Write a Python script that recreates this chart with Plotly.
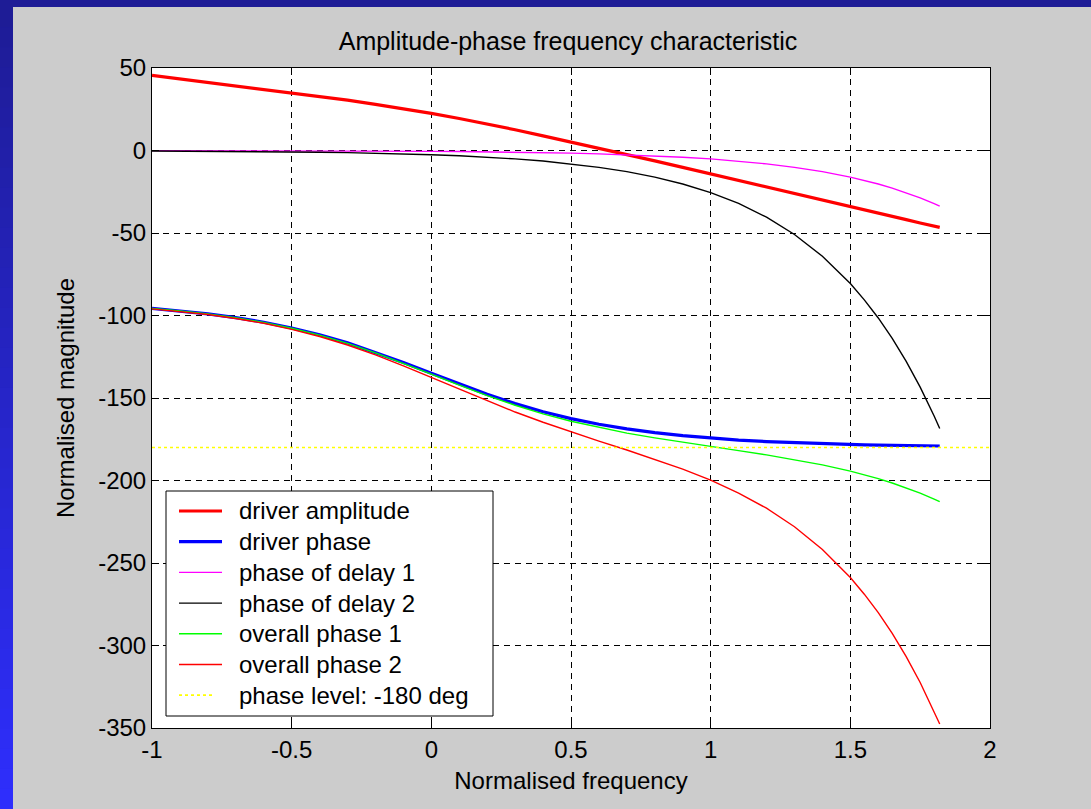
import plotly.graph_objects as go

# ---------------- data ----------------
freq = [-1.0, -0.9, -0.8, -0.7, -0.6, -0.5, -0.4, -0.3, -0.2, -0.1,
        0.0, 0.1, 0.2, 0.3, 0.4, 0.5, 0.6, 0.7, 0.8, 0.9,
        1.0, 1.1, 1.2, 1.3, 1.4, 1.5, 1.55, 1.6, 1.65, 1.7, 1.75, 1.8, 1.82]

driver_amplitude = [45.5, 43.4, 41.4, 39.3, 37.2, 35.1, 32.9, 30.5, 28.0, 25.4,
                    22.5, 19.4, 16.1, 12.6, 8.9, 5.2, 1.4, -2.4, -6.3, -10.2,
                    -14.1, -18.0, -22.0, -25.9, -29.9, -33.9, -35.9, -37.9, -39.9, -41.9, -43.9, -45.9, -46.6]

driver_phase = [-95.7, -97.2, -99.0, -101.3, -104.1, -107.6, -111.7, -116.6, -122.3, -128.5,
                -135.0, -141.5, -147.8, -153.4, -158.3, -162.5, -165.9, -168.7, -171.0, -172.8,
                -174.3, -175.5, -176.4, -177.1, -177.7, -178.2, -178.4, -178.6, -178.7, -178.9, -179.0, -179.1, -179.1]

phase_delay_1 = [-0.05, -0.06, -0.08, -0.10, -0.13, -0.16, -0.20, -0.26, -0.32, -0.41,
                 -0.51, -0.64, -0.81, -1.02, -1.28, -1.61, -2.03, -2.56, -3.22, -4.05,
                 -5.1, -6.4, -8.1, -10.2, -12.8, -16.1, -18.1, -20.3, -22.8, -25.6, -28.7, -32.2, -33.7]

phase_delay_2 = [-0.26, -0.32, -0.40, -0.51, -0.64, -0.81, -1.02, -1.28, -1.61, -2.03,
                 -2.55, -3.2, -4.0, -5.1, -6.4, -8.1, -10.2, -12.8, -16.1, -20.3,
                 -25.5, -32.1, -40.4, -50.9, -64.1, -80.6, -90.5, -101.5, -113.9, -127.8, -143.4, -160.9, -168.5]

overall_phase_1 = [-95.8, -97.2, -99.1, -101.4, -104.2, -107.7, -111.9, -116.9, -122.6, -128.9,
                   -135.5, -142.2, -148.6, -154.4, -159.6, -164.1, -167.9, -171.3, -174.2, -176.9,
                   -179.4, -181.9, -184.5, -187.3, -190.5, -194.3, -196.5, -198.9, -201.5, -204.4, -207.7, -211.3, -212.8]

overall_phase_2 = [-96.0, -97.5, -99.4, -101.8, -104.7, -108.4, -112.7, -117.9, -123.9, -130.5,
                   -137.6, -144.8, -151.8, -158.5, -164.7, -170.5, -176.1, -181.5, -187.1, -193.1,
                   -199.8, -207.6, -216.8, -228.0, -241.8, -258.8, -268.9, -280.1, -292.6, -306.7, -322.4, -340.0, -347.6]

level_x = [-1.0, 2.0]
level_y = [-180, -180]

x_ticks = [-1, -0.5, 0, 0.5, 1, 1.5, 2]
x_tick_text = ["-1", "-0.5", "0", "0.5", "1", "1.5", "2"]
y_ticks = [-350, -300, -250, -200, -150, -100, -50, 0, 50]
y_tick_text = ["-350", "-300", "-250", "-200", "-150", "-100", "-50", "0", "50"]

series_names = ["driver amplitude", "driver phase", "phase of delay 1", "phase of delay 2",
                "overall phase 1", "overall phase 2", "phase level: -180 deg"]

# ---------------- figure ----------------
W, H = 1091, 809
L, R, T, B = 152, 101, 68, 81
FONT = "Liberation Sans"
FS = 24

styles = [("#ff0000", 3.2, "solid"), ("#0000ff", 3.2, "solid"), ("#ff00ff", 1.4, "solid"),
          ("#000000", 1.4, "solid"), ("#00ff00", 1.4, "solid"), ("#ff0000", 1.4, "solid"),
          ("#ffff00", 1.7, "dot")]
ys = [driver_amplitude, driver_phase, phase_delay_1, phase_delay_2, overall_phase_1, overall_phase_2]

fig = go.Figure()
for name, y, (c, w, d) in zip(series_names[:6], ys, styles[:6]):
    fig.add_trace(go.Scatter(x=freq, y=y, mode="lines", name=name, showlegend=False,
                             line=dict(color=c, width=w, dash=d)))
fig.add_trace(go.Scatter(x=level_x, y=level_y, mode="lines", name=series_names[6], showlegend=False,
                         line=dict(color=styles[6][0], width=styles[6][1], dash=styles[6][2])))

pw, ph = W - L - R, H - T - B
def px2x(p):
    return (p - L) / pw
def py2y(p):
    return (H - B - p) / ph

shapes = []
annotations = []

# blue frame around the grey panel (decoration)
dark = (30, 28, 150)
bright = (46, 46, 252)
shapes.append(dict(type="rect", xref="paper", yref="paper",
                   x0=px2x(0), x1=px2x(W), y0=py2y(7), y1=py2y(0),
                   fillcolor="rgb(%d,%d,%d)" % dark, line=dict(width=0)))
n = 40
for i in range(n):
    t = i / (n - 1)
    col = tuple(int(round(dark[k] + (bright[k] - dark[k]) * t)) for k in range(3))
    y_top = 7 + (H - 7) * i / n
    y_bot = 7 + (H - 7) * (i + 1) / n + 1
    shapes.append(dict(type="rect", xref="paper", yref="paper",
                       x0=px2x(0), x1=px2x(13), y0=py2y(y_bot), y1=py2y(y_top),
                       fillcolor="rgb(%d,%d,%d)" % col, line=dict(width=0)))

# legend box (MATLAB style: long line samples)
shapes.append(dict(type="rect", xref="paper", yref="paper",
                   x0=px2x(166), x1=px2x(493), y0=py2y(716), y1=py2y(491),
                   fillcolor="white", line=dict(color="black", width=1), layer="above"))
row0, step = 511, 30.7
for i, (name, (c, w, d)) in enumerate(zip(series_names, styles)):
    yy = py2y(row0 + i * step)
    x_end = 213 if d == "dot" else 222
    shapes.append(dict(type="line", xref="paper", yref="paper",
                       x0=px2x(179), x1=px2x(x_end), y0=yy, y1=yy,
                       line=dict(color=c, width=w, dash=d), layer="above"))
    annotations.append(dict(text=name, xref="paper", yref="paper", x=px2x(237), y=yy,
                            xanchor="left", yanchor="middle", showarrow=False,
                            font=dict(family=FONT, size=FS, color="black")))

axis_common = dict(showline=True, linecolor="black", linewidth=1, mirror="ticks",
                   ticks="inside", ticklen=7, tickcolor="black", tickwidth=1,
                   showgrid=True, gridcolor="black", gridwidth=1, griddash="6px,5px",
                   zeroline=False, tickfont=dict(family=FONT, size=FS, color="black"))

fig.update_layout(
    width=W, height=H,
    margin=dict(l=L, r=R, t=T, b=B, autoexpand=False),
    paper_bgcolor="#cccccc", plot_bgcolor="white",
    font=dict(family=FONT, size=FS, color="black"),
    title=dict(text="Amplitude-phase frequency characteristic", x=(568 / W), xanchor="center",
               y=1 - 41 / H, yanchor="middle", yref="container",
               font=dict(family=FONT, size=25, color="black")),
    xaxis=dict(range=[-1, 2], tickvals=x_ticks, ticktext=x_tick_text,
               title=dict(text="Normalised frequency", standoff=10,
                          font=dict(family=FONT, size=FS)), **axis_common),
    yaxis=dict(range=[-350, 50], tickvals=y_ticks, ticktext=y_tick_text,
               title=dict(text="Normalised magnitude", standoff=16,
                          font=dict(family=FONT, size=FS)), **axis_common),
    shapes=shapes,
    annotations=annotations,
    showlegend=False,
)

fig.write_html("out.html", config={"displayModeBar": False},
               post_script="document.body.style.margin='0';document.body.style.padding='0';")
